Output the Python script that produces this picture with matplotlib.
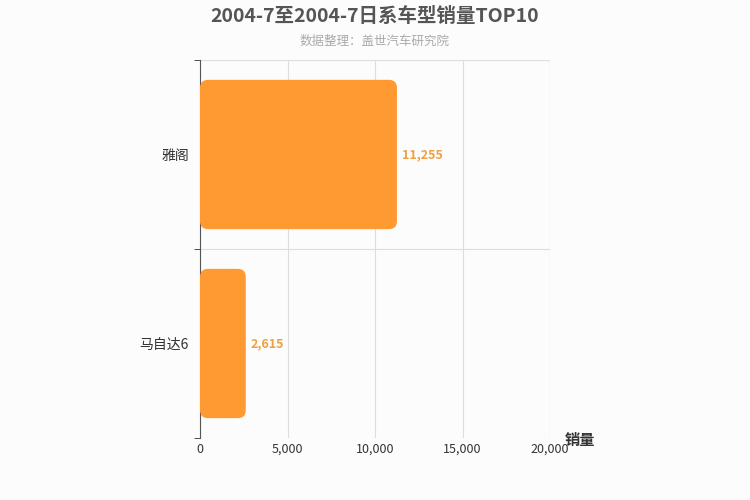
import matplotlib.pyplot as plt
from matplotlib.patches import FancyBboxPatch

plt.rcParams['font.family'] = ['Noto Sans CJK SC', 'DejaVu Sans']

models = ["马自达6", "雅阁"]
sales = [2615, 11255]

fig = plt.figure(figsize=(7.5, 5), dpi=100, facecolor="#fcfcfc")
ax = fig.add_axes([200 / 750, 62 / 500, 350 / 750, 378 / 500])
ax.set_facecolor("#fcfcfc")
ax.set_xlim(0, 20000)
ax.set_ylim(-0.5, 1.5)

# pixel -> data scale, so the rounded corners stay round
px_x = 20000 / 350
px_y = 2 / 378
r = 8
bh = 0.79
for i, v in enumerate(sales):
    p = FancyBboxPatch((0, i - bh / 2), v, bh,
                       boxstyle=f"round,pad=0,rounding_size={r * px_x}",
                       mutation_aspect=px_y / px_x,
                       fc="#ff9a33", ec="none", zorder=3)
    ax.add_patch(p)
    ax.text(v + 5 * px_x, i, f"{v:,}", va="center", ha="left",
            color="#f0a040", fontsize=9, fontweight="bold")

ax.set_yticks(range(len(models)))
ax.set_yticklabels(models, fontsize=10, color="#333333")
ax.set_yticks([-0.5, 0.5, 1.5], minor=True)
ax.tick_params(axis="y", which="major", length=0, pad=8)
ax.tick_params(axis="y", which="minor", length=4, color="#333333")
ax.set_xticks([0, 5000, 10000, 15000, 20000])
ax.set_xticklabels(["0", "5,000", "10,000", "15,000", "20,000"], fontsize=9, color="#333333")
ax.tick_params(axis="x", length=0)
ax.grid(axis="x", color="#dddddd", lw=0.8, zorder=0)
ax.grid(axis="y", which="minor", color="#dddddd", lw=0.8, zorder=0)
for s in ["top", "right", "bottom"]:
    ax.spines[s].set_visible(False)
ax.spines["left"].set_color("#555555")
ax.plot([1, 1], [0, 1], transform=ax.transAxes, color="#dddddd", lw=0.8)
ax.plot([0, 1], [1, 1], transform=ax.transAxes, color="#dddddd", lw=0.8)

fig.text(565 / 750, 1 - 440 / 500, "销量", fontsize=11, fontweight="bold", color="#333333", va="center")
fig.text(0.5, 1 - 16 / 500, "2004-7至2004-7日系车型销量TOP10", ha="center", va="center",
         fontsize=14, fontweight="bold", color="#555555")
fig.text(0.5, 1 - 41 / 500, "数据整理：盖世汽车研究院", ha="center", va="center",
         fontsize=9, color="#aaaaaa")

fig.savefig("out.png", dpi=100, facecolor=fig.get_facecolor())
